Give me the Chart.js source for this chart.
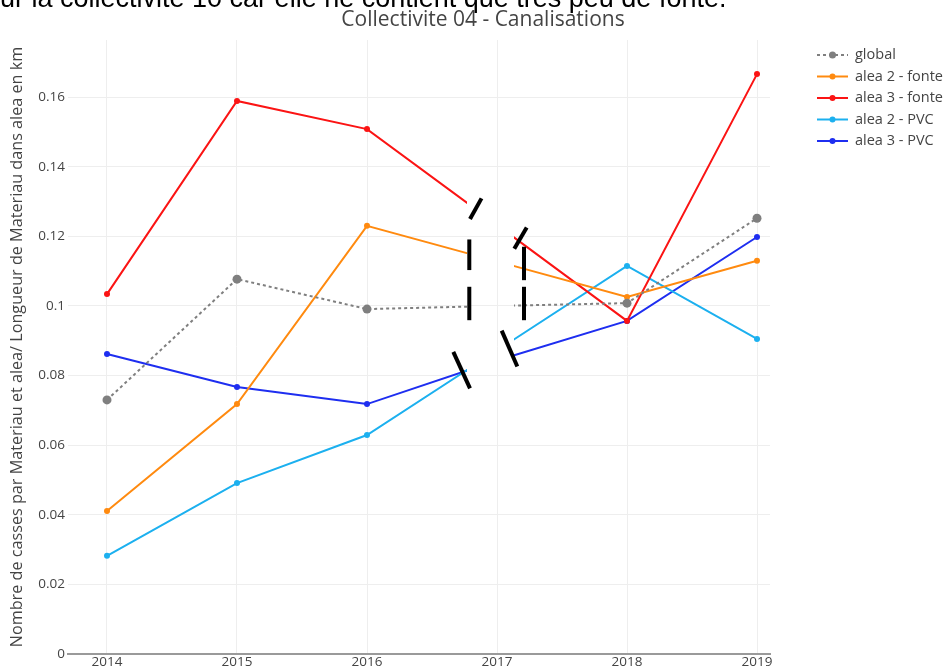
<!DOCTYPE html>
<html>
<head>
<meta charset="utf-8">
<script src="https://cdn.jsdelivr.net/npm/chart.js@4.4.0/dist/chart.umd.min.js"></script>
<style>
    html, body { margin: 0; padding: 0; background: #fff; overflow: hidden; }
    #wrap { position: relative; width: 949px; height: 668px; }
    #topNote {
        position: absolute; left: 0; top: -17px;
        font-family: "Liberation Sans", Arial, sans-serif; font-size: 27px; color: #000;
        white-space: nowrap; line-height: 31px;
    }
</style>
</head>
<body>
<div id="wrap">
    <canvas id="chart" width="949" height="668"></canvas>
    <div id="topNote">ur la collectivité 10 car elle ne contient que très peu de fonte.</div>
</div>
<script>
// data
const years = [2014, 2015, 2016, 2017, 2018, 2019];
const globalVals = [0.0730, 0.1077, 0.0991, 0.1000, 0.1008, 0.1252];
const alea2Fonte = [0.0411, 0.0718, 0.1230, 0.1128, 0.1026, 0.1130];
const alea3Fonte = [0.1034, 0.1589, 0.1508, 0.1233, 0.0957, 0.1666];
const alea2PVC = [0.0282, 0.0491, 0.0629, 0.0872, 0.1115, 0.0905];
const alea3PVC = [0.0862, 0.0767, 0.0718, 0.0843, 0.0957, 0.1198];
const yTicks = [0, 0.02, 0.04, 0.06, 0.08, 0.1, 0.12, 0.14, 0.16];

const seriesLabels = ['global', 'alea 2 - fonte', 'alea 3 - fonte', 'alea 2 - PVC', 'alea 3 - PVC'];
const seriesColors = ['#7f7f7f', '#ff8a0f', '#fb1414', '#1cb0ef', '#1e2ef0'];
const seriesValues = [globalVals, alea2Fonte, alea3Fonte, alea2PVC, alea3PVC];

const TEXT = '#444';
const FONT = '"Open Sans", "Noto Sans", sans-serif';

const datasets = seriesValues.map((vals, i) => ({
    label: seriesLabels[i],
    data: vals.map((v, k) => ({ x: years[k], y: v })),
    borderColor: seriesColors[i],
    backgroundColor: seriesColors[i],
    borderWidth: 2,
    borderDash: i === 0 ? [3, 3] : [],
    pointRadius: i === 0 ? 4.5 : 3,
    pointBorderWidth: 0,
    pointHoverRadius: 4,
    tension: 0
}));

// hides the lines around 2017 (the break in the picture)
const breakPlugin = {
    id: 'breakPlugin',
    beforeDatasetsDraw(chart) {
        const { ctx, chartArea: a, scales } = chart;
        const x17 = scales.x.getPixelForValue(2017);
        ctx.save();
        ctx.beginPath();
        ctx.rect(a.left, a.top, (x17 - 30) - a.left, a.bottom - a.top);
        ctx.rect(x17 + 17, a.top, a.right - (x17 + 17), a.bottom - a.top);
        ctx.clip();
    },
    afterDatasetsDraw(chart) {
        const { ctx, scales } = chart;
        ctx.restore();
        const x17 = scales.x.getPixelForValue(2017);
        const y = v => scales.y.getPixelForValue(v);
        // break marks: [dx1, v1, dx2, v2]
        const marks = [
            [-27, 0.1250, -15.5, 0.1309],
            [-27.7, 0.1191, -27.7, 0.1103],
            [-27.7, 0.1055, -27.7, 0.0959],
            [-43.7, 0.0868, -27, 0.0763],
            [29.7, 0.1225, 17.3, 0.1164],
            [27, 0.1170, 27, 0.1074],
            [27, 0.1055, 27, 0.0959],
            [4.7, 0.0929, 20.3, 0.0826]
        ];
        ctx.save();
        ctx.strokeStyle = '#000';
        ctx.lineWidth = 4;
        ctx.lineCap = 'butt';
        marks.forEach(m => {
            ctx.beginPath();
            ctx.moveTo(x17 + m[0], y(m[1]));
            ctx.lineTo(x17 + m[2], y(m[3]));
            ctx.stroke();
        });
        ctx.restore();
    },
    afterDraw(chart) {
        const { ctx, chartArea: a } = chart;
        ctx.save();
        // title
        ctx.fillStyle = TEXT;
        ctx.font = '21px ' + FONT;
        ctx.textAlign = 'center';
        ctx.textBaseline = 'middle';
        ctx.fillText('Collectivite 04 - Canalisations', 483, 20);
        // legend
        ctx.font = '14.5px ' + FONT;
        ctx.textAlign = 'left';
        seriesLabels.forEach((lab, i) => {
            const ly = 55 + i * 21.5;
            ctx.strokeStyle = seriesColors[i];
            ctx.fillStyle = seriesColors[i];
            ctx.lineWidth = 2;
            ctx.setLineDash(i === 0 ? [3, 3] : []);
            ctx.beginPath();
            ctx.moveTo(a.right + 47, ly);
            ctx.lineTo(a.right + 78, ly);
            ctx.stroke();
            ctx.setLineDash([]);
            ctx.beginPath();
            ctx.arc(a.right + 62.5, ly, i === 0 ? 3.5 : 3, 0, Math.PI * 2);
            ctx.fill();
            ctx.fillStyle = TEXT;
            ctx.fillText(lab, a.right + 85, ly);
        });
        ctx.restore();
    }
};

new Chart(document.getElementById('chart'), {
    type: 'line',
    data: { datasets },
    options: {
        responsive: false,
        animation: false,
        layout: { padding: { left: 0, right: 179, top: 40, bottom: 0 } },
        plugins: { legend: { display: false }, tooltip: { enabled: false } },
        scales: {
            x: {
                type: 'linear',
                min: 2013.7,
                max: 2019.1,
                afterBuildTicks: s => { s.ticks = years.map(v => ({ value: v })); },
                afterFit: s => { s.height = 14; },
                grid: { color: '#eeeeee', lineWidth: 1, drawTicks: false },
                border: { display: true, color: '#9a9a9a', width: 2 },
                ticks: {
                    color: TEXT, font: { family: FONT, size: 13.5 }, padding: 0,
                    autoSkip: false, maxRotation: 0,
                    callback: v => String(v)
                }
            },
            y: {
                min: 0,
                max: 0.1764,
                afterBuildTicks: s => { s.ticks = yTicks.map(v => ({ value: v })); },
                afterFit: s => { s.width = 68; },
                grid: { color: '#eeeeee', lineWidth: 1, drawTicks: false },
                border: { display: false },
                ticks: {
                    color: TEXT, font: { family: FONT, size: 13.5 }, padding: 3,
                    callback: v => v === 0 ? '0' : String(+v.toFixed(2))
                },
                title: {
                    display: true,
                    text: 'Nombre de casses par Materiau et alea/ Longueur de Materiau dans alea en km',
                    color: TEXT,
                    font: { family: FONT, size: 16.2 },
                    padding: { top: 8, bottom: 0 }
                }
            }
        }
    },
    plugins: [breakPlugin]
});
</script>
</body>
</html>
